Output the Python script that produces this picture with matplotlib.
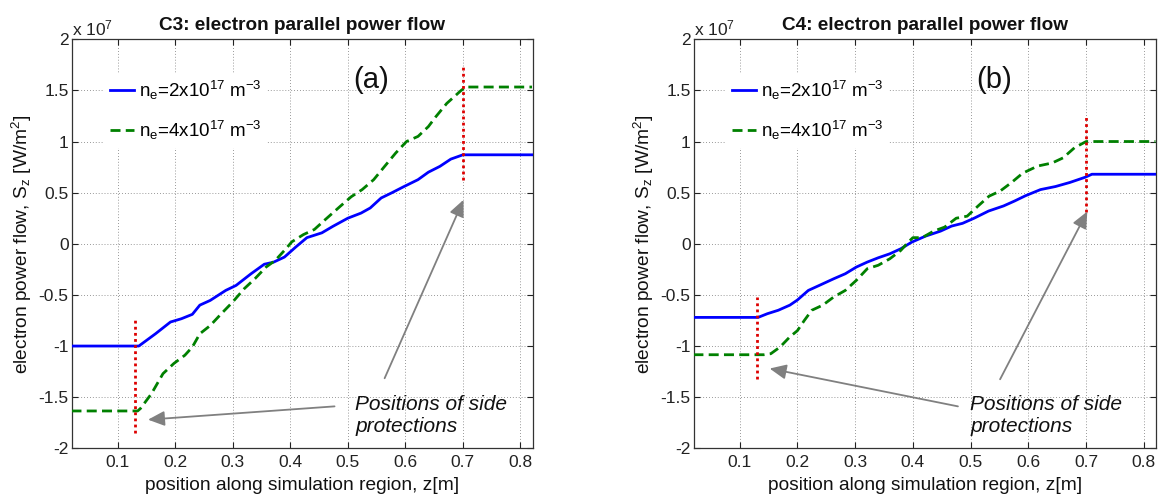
import matplotlib
matplotlib.use("Agg")
import matplotlib.pyplot as plt
from matplotlib.ticker import FuncFormatter, FixedLocator

plt.rcParams['font.family'] = ['Liberation Sans', 'DejaVu Sans']
plt.rcParams['axes.unicode_minus'] = False
plt.rcParams['mathtext.fontset'] = 'custom'
plt.rcParams['mathtext.rm'] = 'Liberation Sans'
plt.rcParams['mathtext.it'] = 'Liberation Sans:italic'

# ---------------- data (S_z in units of 1e7 W/m^2) ----------------
c3_z_ne2 = [0.02, 0.137, 0.166, 0.192, 0.211, 0.23, 0.243, 0.261, 0.288, 0.306, 0.332,
            0.355, 0.371, 0.39, 0.41, 0.429, 0.455, 0.474, 0.5, 0.523, 0.539, 0.558,
            0.577, 0.596, 0.622, 0.64, 0.66, 0.679, 0.7, 0.82]
c3_s_ne2 = [-1.0, -1.0, -0.88, -0.765, -0.733, -0.69, -0.60, -0.554, -0.456, -0.407, -0.293,
            -0.2, -0.18, -0.13, -0.03, 0.06, 0.107, 0.17, 0.25, 0.3, 0.35, 0.448,
            0.5, 0.555, 0.627, 0.7, 0.757, 0.828, 0.87, 0.87]

c3_z_ne4 = [0.02, 0.135, 0.14, 0.159, 0.179, 0.198, 0.217, 0.23, 0.243, 0.261, 0.281, 0.3,
            0.32, 0.339, 0.358, 0.374, 0.39, 0.403, 0.423, 0.442, 0.461, 0.487, 0.506,
            0.525, 0.545, 0.564, 0.583, 0.602, 0.622, 0.64, 0.653, 0.672, 0.697, 0.705, 0.82]
c3_s_ne4 = [-1.635, -1.635, -1.61, -1.466, -1.27, -1.17, -1.09, -1.01, -0.88, -0.80, -0.68, -0.57,
            -0.44, -0.34, -0.228, -0.163, -0.065, 0.02, 0.09, 0.14, 0.237, 0.367, 0.46,
            0.53, 0.627, 0.757, 0.886, 1.0, 1.05, 1.146, 1.243, 1.373, 1.5, 1.533, 1.533]

c4_z_ne2 = [0.02, 0.132, 0.148, 0.167, 0.187, 0.2, 0.219, 0.238, 0.263, 0.283, 0.302, 0.321,
            0.34, 0.36, 0.379, 0.398, 0.422, 0.448, 0.467, 0.486, 0.506, 0.531, 0.557,
            0.576, 0.595, 0.621, 0.647, 0.672, 0.698, 0.71, 0.82]
c4_s_ne2 = [-0.72, -0.72, -0.684, -0.65, -0.60, -0.55, -0.456, -0.407, -0.342, -0.293, -0.228, -0.179,
            -0.137, -0.098, -0.049, 0.016, 0.075, 0.124, 0.173, 0.2, 0.25, 0.32, 0.37,
            0.418, 0.47, 0.53, 0.56, 0.6, 0.65, 0.68, 0.68]

c4_z_ne4 = [0.02, 0.142, 0.154, 0.17, 0.187, 0.2, 0.212, 0.225, 0.244, 0.263, 0.283, 0.302,
            0.321, 0.34, 0.36, 0.379, 0.392, 0.4, 0.416, 0.436, 0.455, 0.475, 0.494, 0.513,
            0.532, 0.551, 0.571, 0.59, 0.616, 0.641, 0.66, 0.68, 0.7, 0.82]
c4_s_ne4 = [-1.085, -1.085, -1.075, -1.01, -0.91, -0.85, -0.75, -0.65, -0.60, -0.52, -0.456, -0.358,
            -0.244, -0.21, -0.147, -0.065, 0.016, 0.06, 0.06, 0.124, 0.163, 0.25, 0.27, 0.37,
            0.466, 0.515, 0.6, 0.69, 0.76, 0.79, 0.84, 0.94, 1.0, 1.0]

# side-protection markers: (z, y_low, y_high)
c3_markers = [(0.13, -1.85, -0.74), (0.70, 0.62, 1.73)]
c4_markers = [(0.13, -1.32, -0.52), (0.70, 0.31, 1.25)]

# annotation arrows: (tail z, tail y, head z, head y)
c3_arrows = [(0.477, -1.59, 0.153, -1.72), (0.564, -1.315, 0.701, 0.43)]
c4_arrows = [(0.478, -1.59, 0.152, -1.22), (0.551, -1.325, 0.702, 0.316)]

titles = ["C3: electron parallel power flow", "C4: electron parallel power flow"]
panel_labels = ["(a)", "(b)"]
legend_labels = [r"n$_\mathregular{e}$=2x10$^\mathregular{17}$ m$^\mathregular{-3}$",
                 r"n$_\mathregular{e}$=4x10$^\mathregular{17}$ m$^\mathregular{-3}$"]
xticks = [0.1, 0.2, 0.3, 0.4, 0.5, 0.6, 0.7, 0.8]
yticks = [-2, -1.5, -1, -0.5, 0, 0.5, 1, 1.5, 2]
note_text = "Positions of side\nprotections"
note_pos = [(0.513, -1.68), (0.499, -1.68)]

# ---------------- figure ----------------
fig = plt.figure(figsize=(11.58, 4.97), dpi=100)
axes_rects = [[0.0622, 0.098, 0.3977, 0.823], [0.5993, 0.098, 0.3990, 0.823]]

panels = [
    (c3_z_ne2, c3_s_ne2, c3_z_ne4, c3_s_ne4, c3_markers, c3_arrows),
    (c4_z_ne2, c4_s_ne2, c4_z_ne4, c4_s_ne4, c4_markers, c4_arrows),
]

BLUE = '#0000ff'
GREEN = '#008000'
RED = '#dd0000'
GRAY = '#808080'

fmt = FuncFormatter(lambda v, p: ('%g' % v))

for i, (z2, s2, z4, s4, markers, arrows) in enumerate(panels):
    ax = fig.add_axes(axes_rects[i])
    ax.set_xlim(0.021, 0.821)
    ax.set_ylim(-2, 2)
    ax.xaxis.set_major_locator(FixedLocator(xticks))
    ax.yaxis.set_major_locator(FixedLocator(yticks))
    ax.xaxis.set_major_formatter(fmt)
    ax.yaxis.set_major_formatter(fmt)
    ax.tick_params(direction='in', length=4, width=0.8, labelsize=12.5, colors='#222222',
                   top=True, right=True)
    ax.tick_params(axis='y', pad=2.5)
    ax.tick_params(axis='x', pad=5)
    for sp in ax.spines.values():
        sp.set_linewidth(0.9)
        sp.set_color('#333333')
    ax.grid(True, linestyle=(0, (1, 2.5)), color='#777777', linewidth=0.6)
    ax.set_axisbelow(True)

    l1, = ax.plot(z2, s2, color=BLUE, lw=2.0, zorder=3)
    l2, = ax.plot(z4, s4, color=GREEN, lw=2.0, linestyle=(0, (3.6, 1.9)), zorder=3)
    for (zm, ylo, yhi) in markers:
        ax.plot([zm, zm], [ylo, yhi], color=RED, lw=2.0, linestyle=(0, (1, 1.2)), zorder=4)

    for (tx, ty, hx, hy) in arrows:
        ax.annotate('', xy=(hx, hy), xytext=(tx, ty),
                    arrowprops=dict(arrowstyle='-|>,head_length=1.0,head_width=0.45',
                                    color=GRAY, lw=1.3, shrinkA=0, shrinkB=0), zorder=5)

    ax.text(note_pos[i][0], note_pos[i][1], note_text, style='italic', fontsize=15,
            ha='left', va='center', linespacing=1.15, color='#111111', zorder=6)

    ax.text(0.54, 1.60, panel_labels[i], fontsize=21, ha='center', va='center', color='#111111')

    ax.set_title(titles[i], fontsize=13.7, fontweight='bold', pad=7, color='#111111')
    ax.set_xlabel('position along simulation region, z[m]', fontsize=13.8, labelpad=5,
                  color='#111111')
    ax.set_ylabel(r'electron power flow, S$_\mathregular{z}$ [W/m$^\mathregular{2}$]',
                  fontsize=13.8, labelpad=3, color='#111111')
    ax.text(0.0, 1.003, r'x 10$^\mathregular{7}$', transform=ax.transAxes, fontsize=12.5,
            ha='left', va='bottom', color='#222222')

    leg = ax.legend([l1, l2], legend_labels, loc='upper left', bbox_to_anchor=(0.05, 0.94),
                    fontsize=13.5, frameon=True, facecolor='white', edgecolor='none',
                    framealpha=1.0, handlelength=1.3, handletextpad=0.25, labelspacing=0.9,
                    borderpad=0.3, fancybox=False)
    leg.set_zorder(2.5)

fig.savefig('out.png', dpi=100)
